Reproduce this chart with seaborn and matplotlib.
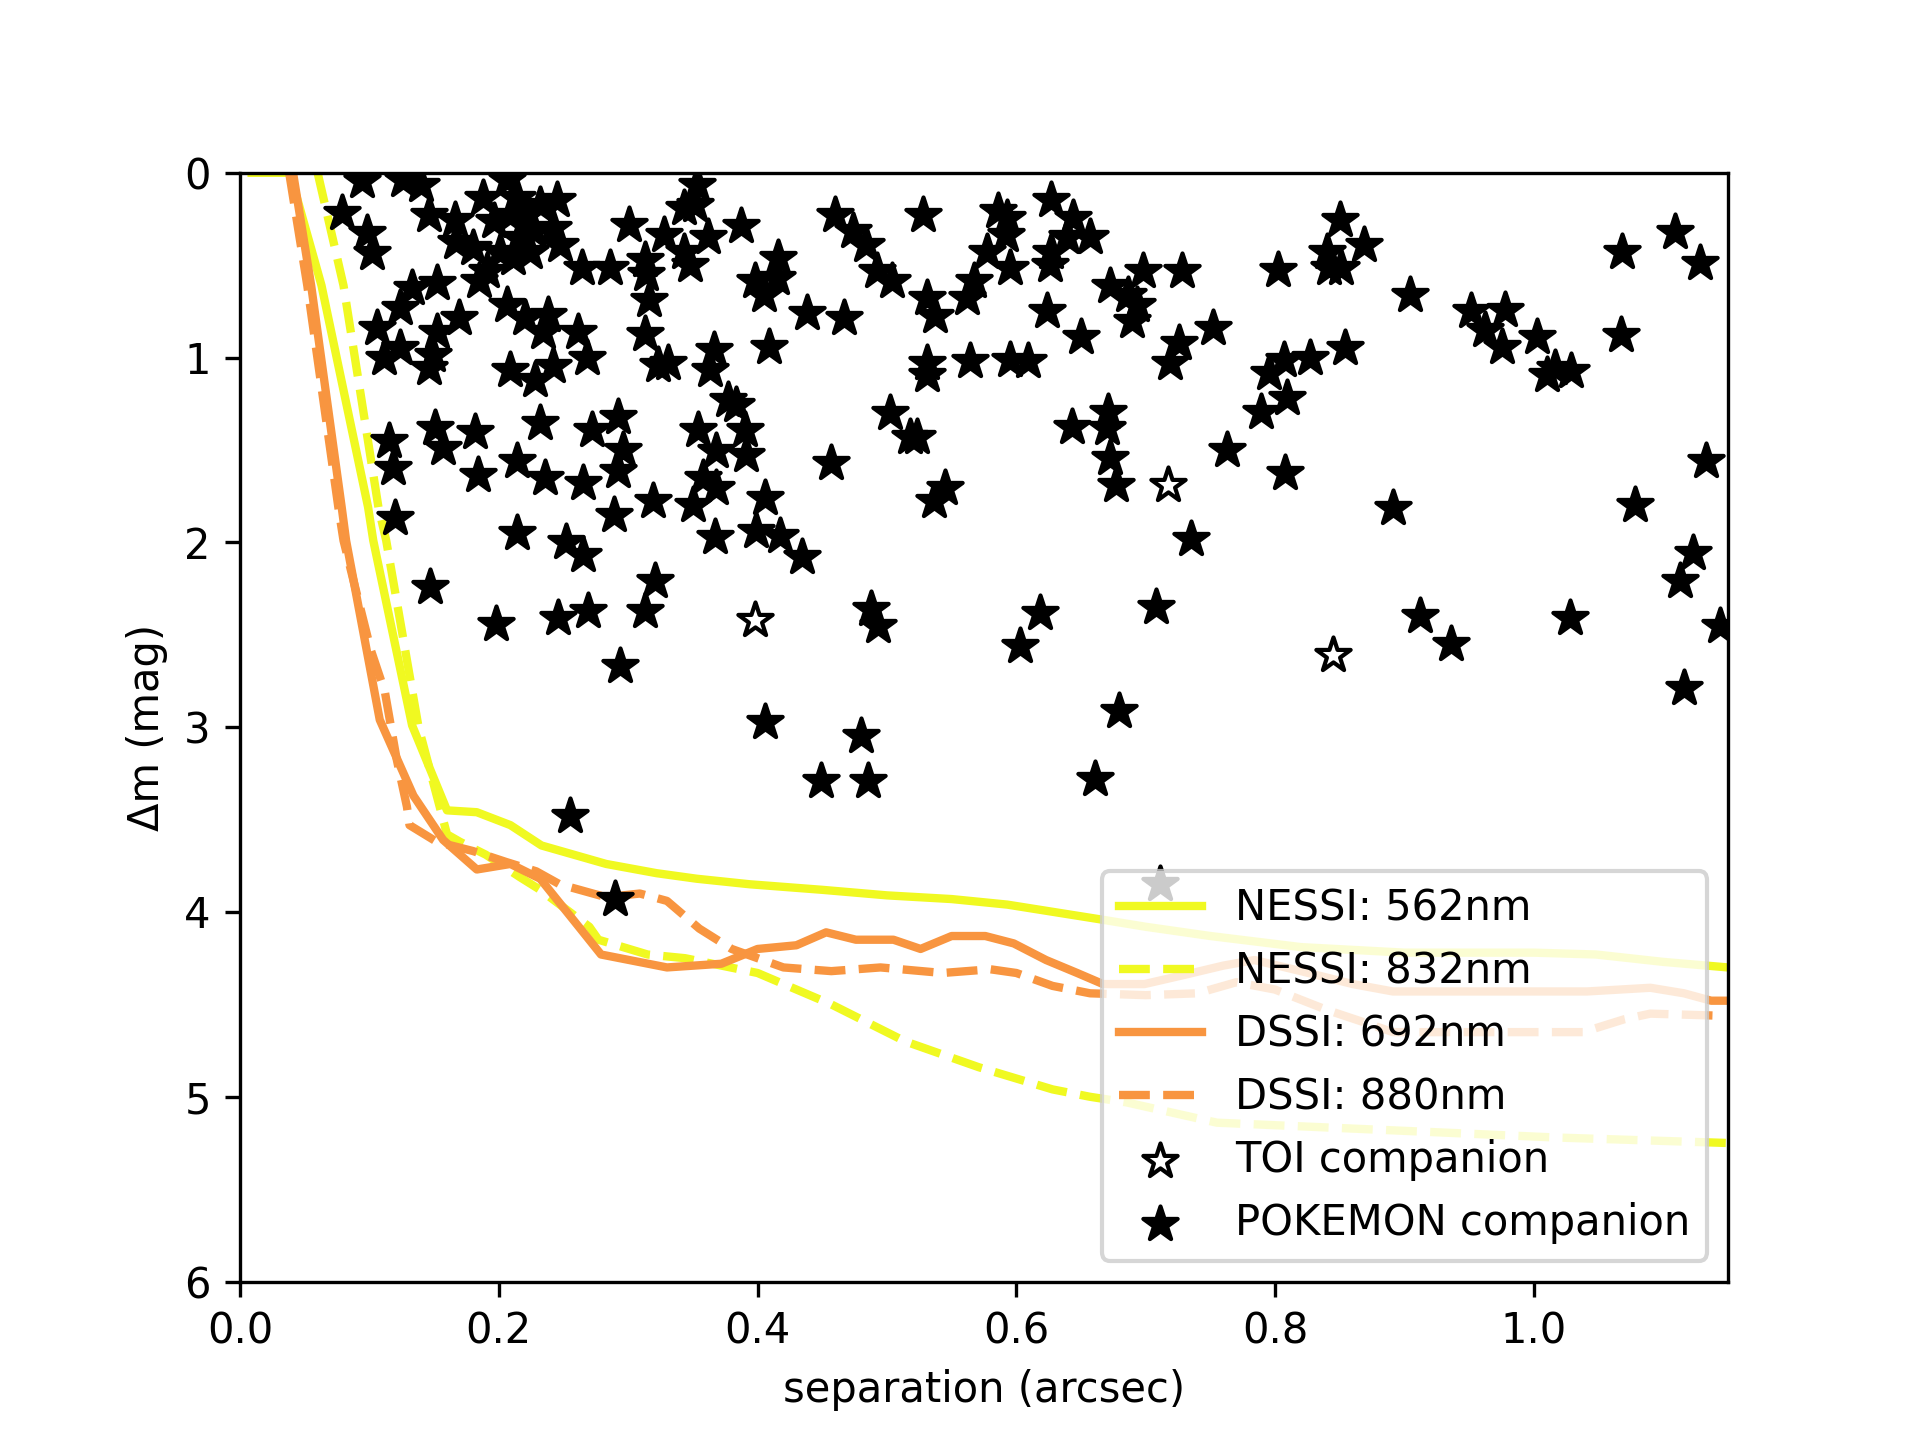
import numpy as np
import matplotlib
matplotlib.use("Agg")
import matplotlib.pyplot as plt
import seaborn as sns

# contrast curves (separation in arcsec, delta mag)
nessi562_x = [0.009, 0.0386, 0.063, 0.099, 0.103, 0.133, 0.160, 0.183, 0.209, 0.233, 0.258, 0.283, 0.322,
              0.353, 0.394, 0.45, 0.5, 0.55, 0.593, 0.62, 0.665, 0.7, 0.75, 0.82, 0.9, 0.95, 1.0, 1.048, 1.1, 1.15]
nessi562_y = [0.0, 0.0, 0.61, 1.81, 1.99, 2.99, 3.45, 3.46, 3.53, 3.64, 3.69, 3.74, 3.79,
              3.82, 3.85, 3.88, 3.91, 3.93, 3.96, 3.99, 4.04, 4.08, 4.13, 4.19, 4.22, 4.22, 4.22, 4.23, 4.27, 4.30]

nessi832_x = [0.060, 0.080, 0.107, 0.113, 0.138, 0.160, 0.170, 0.19, 0.216, 0.232, 0.27, 0.277, 0.315, 0.344,
              0.40, 0.457, 0.514, 0.571, 0.628, 0.657, 0.685, 0.755, 0.886, 1.016, 1.15]
nessi832_y = [0.0, 0.61, 1.81, 1.99, 3.0, 3.58, 3.62, 3.69, 3.81, 3.88, 4.08, 4.15, 4.23, 4.25,
              4.33, 4.50, 4.70, 4.84, 4.96, 5.00, 5.03, 5.14, 5.18, 5.22, 5.25]

dssi692_x = [0.041, 0.055, 0.0786, 0.082, 0.108, 0.134, 0.157, 0.183, 0.209, 0.232, 0.263, 0.279, 0.33, 0.372,
             0.40, 0.43, 0.453, 0.476, 0.505, 0.526, 0.55, 0.576, 0.598, 0.623, 0.647, 0.667, 0.699, 0.73,
             0.76, 0.784, 0.82, 0.86, 0.891, 0.95, 1.0, 1.041, 1.09, 1.116, 1.137, 1.15]
dssi692_y = [0.0, 0.61, 1.81, 1.99, 2.96, 3.37, 3.61, 3.77, 3.74, 3.82, 4.09, 4.23, 4.30, 4.28,
             4.20, 4.18, 4.11, 4.15, 4.15, 4.20, 4.13, 4.13, 4.17, 4.26, 4.33, 4.39, 4.39, 4.34,
             4.29, 4.26, 4.32, 4.39, 4.43, 4.43, 4.43, 4.43, 4.41, 4.44, 4.48, 4.48]

dssi880_x = [0.038, 0.052, 0.076, 0.080, 0.101, 0.112, 0.121, 0.129, 0.131, 0.152, 0.18, 0.206, 0.229, 0.247,
             0.283, 0.309, 0.33, 0.355, 0.38, 0.42, 0.457, 0.495, 0.543, 0.58, 0.6, 0.628, 0.657, 0.70,
             0.74, 0.77, 0.80, 0.84, 0.87, 0.891, 1.038, 1.07, 1.09, 1.138]
dssi880_y = [0.0, 0.61, 1.81, 1.99, 2.58, 2.81, 3.17, 3.43, 3.53, 3.62, 3.67, 3.73, 3.78, 3.85,
             3.92, 3.90, 3.94, 4.09, 4.20, 4.30, 4.32, 4.30, 4.33, 4.31, 4.33, 4.40, 4.44, 4.45,
             4.44, 4.38, 4.42, 4.53, 4.60, 4.65, 4.65, 4.58, 4.55, 4.56]

# companions
toi_x = [0.398, 0.717, 0.845]
toi_y = [2.42, 1.69, 2.61]

pokemon_x = [
    0.094, 0.126, 0.140, 0.079, 0.098, 0.102, 0.146, 0.166, 0.167, 0.188, 0.206, 0.245, 0.209, 0.222, 0.227,
    0.211, 0.242, 0.191, 0.185, 0.301, 0.264, 0.286, 0.133, 0.152, 0.124, 0.169, 0.106, 0.152, 0.124, 0.111,
    0.146, 0.149, 0.206, 0.220, 0.238, 0.234, 0.261, 0.268, 0.209, 0.228, 0.242, 0.115, 0.118, 0.120, 0.151,
    0.157, 0.182, 0.184, 0.214, 0.232, 0.236, 0.272, 0.292, 0.296, 0.292, 0.265, 0.289, 0.214, 0.319,
    0.196, 0.216, 0.201, 0.232, 0.224, 0.247, 0.180, 0.214,
    0.313, 0.314, 0.316, 0.313, 0.323,
    0.353, 0.352, 0.343, 0.387, 0.328, 0.362, 0.343, 0.348, 0.398, 0.416, 0.415, 0.405, 0.438, 0.467, 0.409,
    0.331, 0.366, 0.363, 0.460, 0.474, 0.484, 0.492, 0.504, 0.528, 0.531, 0.537, 0.562, 0.567, 0.586, 0.593,
    0.577, 0.592, 0.595, 0.627, 0.531, 0.531, 0.564, 0.595, 0.609, 0.502, 0.518, 0.523, 0.457, 0.377, 0.383,
    0.354, 0.390, 0.368, 0.391, 0.358, 0.368, 0.350, 0.406, 0.367, 0.399, 0.417, 0.536, 0.545,
    0.627, 0.644, 0.657, 0.639, 0.626, 0.624, 0.650, 0.672, 0.686, 0.698, 0.693, 0.689, 0.728, 0.726, 0.719,
    0.752, 0.802, 0.840, 0.842, 0.851, 0.850, 0.869, 0.904, 0.807, 0.795, 0.827, 0.854, 0.809, 0.789, 0.643,
    0.671, 0.670, 0.672, 0.677, 0.763, 0.808, 0.891, 0.735,
    1.109, 1.068, 1.128, 0.951, 0.978, 0.962, 0.975, 1.002, 1.016, 1.010, 1.029, 1.067, 1.133, 1.078,
    0.147, 0.198, 0.246, 0.269, 0.321, 0.313, 0.294, 0.255, 0.290, 0.252, 0.265,
    0.434, 0.488, 0.493, 0.618, 0.603, 0.708, 0.406, 0.480, 0.449, 0.485, 0.679, 0.661, 0.711,
    0.912, 0.936, 1.028, 1.123, 1.113, 1.144, 1.116,
]
pokemon_y = [
    0.047, 0.038, 0.065, 0.218, 0.326, 0.435, 0.227, 0.254, 0.372, 0.137, 0.038, 0.146, 0.227, 0.227, 0.317,
    0.462, 0.299, 0.534, 0.588, 0.281, 0.516, 0.516, 0.624, 0.597, 0.732, 0.786, 0.840, 0.859, 0.949, 1.003,
    1.057, 0.985, 0.714, 0.786, 0.768, 0.859, 0.859, 1.003, 1.066, 1.120, 1.048, 1.454, 1.598, 1.869, 1.382,
    1.490, 1.400, 1.634, 1.562, 1.355, 1.652, 1.391, 1.319, 1.499, 1.616, 1.679, 1.851, 1.950, 1.778,
    0.263, 0.354, 0.426, 0.173, 0.426, 0.390, 0.408, 0.137,
    0.47, 0.55, 0.69, 0.87, 1.04,
    0.065, 0.173, 0.191, 0.290, 0.336, 0.345, 0.426, 0.498, 0.588, 0.462, 0.570, 0.660, 0.759, 0.786, 0.940,
    1.030, 0.958, 1.066, 0.227, 0.317, 0.390, 0.534, 0.588, 0.227, 0.678, 0.777, 0.678, 0.588, 0.209, 0.245,
    0.426, 0.336, 0.516, 0.426, 1.030, 1.093, 1.021, 1.012, 1.021, 1.300, 1.427, 1.427, 1.571, 1.228, 1.255,
    1.391, 1.391, 1.508, 1.526, 1.652, 1.706, 1.797, 1.760, 1.970, 1.941, 1.965, 1.778, 1.706,
    0.146, 0.245, 0.345, 0.345, 0.498, 0.750, 0.886, 0.615, 0.660, 0.534, 0.714, 0.804, 0.534, 0.922, 1.030,
    0.841, 0.525, 0.426, 0.516, 0.516, 0.254, 0.390, 0.660, 1.012, 1.084, 1.003, 0.949, 1.219, 1.292, 1.373,
    1.292, 1.382, 1.544, 1.688, 1.499, 1.625, 1.815, 1.980,
    0.318, 0.426, 0.489, 0.750, 0.741, 0.850, 0.940, 0.886, 1.057, 1.093, 1.075, 0.877, 1.562, 1.797,
    2.24, 2.44, 2.41, 2.37, 2.21, 2.37, 2.67, 3.48, 3.93, 2.00, 2.07,
    2.08, 2.36, 2.45, 2.38, 2.56, 2.35, 2.97, 3.05, 3.29, 3.29, 2.91, 3.28, 3.85,
    2.40, 2.55, 2.41, 2.06, 2.21, 2.45, 2.79,
]

yellow = "#f0f921"
orange = "#f89540"

fig, ax = plt.subplots(figsize=(6.4, 4.8), dpi=300)

sns.lineplot(x=nessi562_x, y=nessi562_y, color=yellow, lw=2, sort=False, estimator=None,
             label="NESSI: 562nm", ax=ax)
sns.lineplot(x=nessi832_x, y=nessi832_y, color=yellow, lw=2, ls="--", sort=False, estimator=None,
             label="NESSI: 832nm", ax=ax)
sns.lineplot(x=dssi692_x, y=dssi692_y, color=orange, lw=2, sort=False, estimator=None,
             label="DSSI: 692nm", ax=ax)
sns.lineplot(x=dssi880_x, y=dssi880_y, color=orange, lw=2, ls="--", sort=False, estimator=None,
             label="DSSI: 880nm", ax=ax)

sns.scatterplot(x=toi_x, y=toi_y, marker="*", s=75, color="white", edgecolor="black", linewidth=1,
                label="TOI companion", ax=ax, zorder=3)
sns.scatterplot(x=pokemon_x, y=pokemon_y, marker="*", s=75, color="black", edgecolor="black", linewidth=1,
                label="POKEMON companion", ax=ax, zorder=3)

ax.set_xlim(0, 1.15)
ax.set_ylim(6, 0)
ax.set_xlabel("separation (arcsec)")
ax.set_ylabel("\u0394m (mag)")
ax.legend(loc="lower right")

fig.savefig("out.png", dpi=300)
